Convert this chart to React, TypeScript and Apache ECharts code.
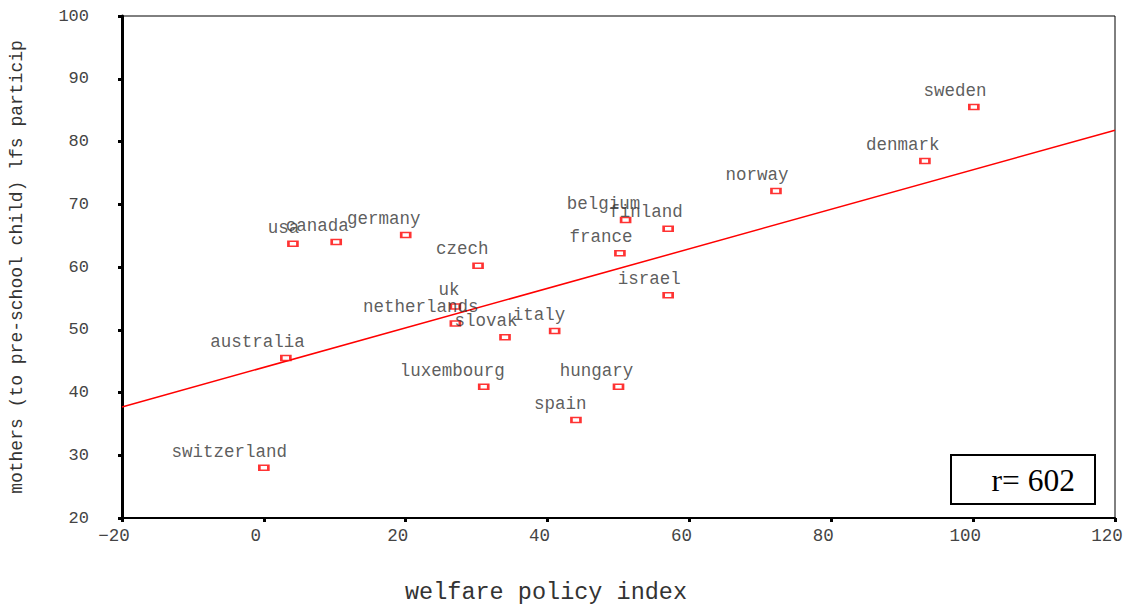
import React, { useEffect, useRef } from "react";
import * as echarts from "echarts";

const countries = [
  "sweden", "denmark", "norway", "belgium", "finland", "france", "israel",
  "usa", "canada", "germany", "czech", "uk", "netherlands", "slovak", "italy",
  "australia", "luxembourg", "hungary", "spain", "switzerland",
];
const welfareIndex = [
  100.1, 93.2, 72.2, 51.0, 57.0, 50.2, 57.0,
  4.1, 10.2, 20.0, 30.2, 27.0, 27.0, 34.0, 41.0,
  3.1, 31.0, 50.0, 44.0, 0.0,
];
const mothersLfs = [
  85.5, 76.9, 72.1, 67.5, 66.1, 62.2, 55.5,
  63.7, 64.0, 65.1, 60.2, 53.7, 51.0, 48.8, 49.8,
  45.5, 40.9, 40.9, 35.6, 28.0,
];
const fitLineX = [-20, 120];
const fitLineY = [37.7, 81.8];
const xTitle = "welfare policy index";
const yTitle = "mothers (to pre-school child) lfs particip";
const rText = "r= 602";

const MONO = "'Liberation Mono', 'Courier New', monospace";

export default function App() {
  const ref = useRef<HTMLDivElement>(null);
  useEffect(() => {
    if (!ref.current) return;
    const chart = echarts.init(ref.current, undefined, { renderer: "svg" });
    const labelFont = 17.5;
    const points = countries.map((name, i) => ({
      name,
      value: [welfareIndex[i], mothersLfs[i]],
    }));
    chart.setOption({
      animation: false,
      backgroundColor: "#fff",
      grid: {
        left: 122,
        right: 13,
        top: 16,
        bottom: 88,
        show: true,
        borderColor: "#000",
        borderWidth: 1,
        outerBoundsMode: "none",
        containLabel: false,
      },
      xAxis: {
        type: "value",
        min: -20,
        max: 120,
        interval: 20,
        splitLine: { show: false },
        axisLine: { show: true, onZero: false, lineStyle: { color: "#000", width: 2 } },
        axisTick: { show: true, length: 4, lineStyle: { color: "#000", width: 3 } },
        axisLabel: {
          color: "#444",
          fontFamily: MONO,
          fontSize: 17.5,
          margin: 9,
          padding: [0, 16, 0, 0],
          formatter: (v: number) => String(v).replace("-", "\u2212"),
        },
      },
      yAxis: {
        type: "value",
        min: 20,
        max: 100,
        interval: 10,
        splitLine: { show: false },
        axisLine: { show: true, onZero: false, lineStyle: { color: "#000", width: 3 } },
        axisTick: { show: true, length: 4, lineStyle: { color: "#000", width: 3 } },
        axisLabel: {
          color: "#444",
          fontFamily: MONO,
          fontSize: 17,
          margin: 33,
        },
        name: yTitle,
        nameLocation: "middle",
        nameGap: 96,
        nameTextStyle: { color: "#333", fontFamily: MONO, fontSize: 18 },
      },
      series: [
        {
          type: "line",
          data: fitLineX.map((x, i) => [x, fitLineY[i]]),
          symbol: "none",
          lineStyle: { color: "#ff0000", width: 1.5 },
          silent: true,
          z: 1,
        },
        {
          type: "scatter",
          data: points,
          symbol: "rect",
          symbolSize: [9, 5],
          itemStyle: { color: "#fff", borderColor: "#ff0000", borderWidth: 2 },
          label: {
            show: true,
            position: "top",
            distance: 4,
            formatter: "{b}",
            color: "#333",
            fontFamily: MONO,
            fontSize: labelFont,
          },
          labelLayout: (params: any) => ({
            dx: -0.3 * params.labelRect.width,
            hideOverlap: false,
          }),
          z: 3,
        },
      ],
      graphic: [
        {
          type: "text",
          left: 405,
          top: 580,
          style: { text: xTitle, fill: "#333", font: `23.5px ${MONO}` },
        },
        {
          type: "rect",
          shape: { x: 951, y: 455, width: 144, height: 49 },
          style: { fill: "#fff", stroke: "#000", lineWidth: 2 },
          z: 10,
        },
        {
          type: "text",
          x: 1075,
          y: 496,
          style: {
            text: rText,
            fill: "#000",
            font: "31.5px 'Liberation Serif', 'Times New Roman', serif",
            textAlign: "right",
            textVerticalAlign: "bottom",
          },
          z: 11,
        },
      ],
    });
    return () => chart.dispose();
  }, []);
  return <div ref={ref} style={{ width: 1128, height: 606, position: "absolute", left: 0, top: 0 }} />;
}
